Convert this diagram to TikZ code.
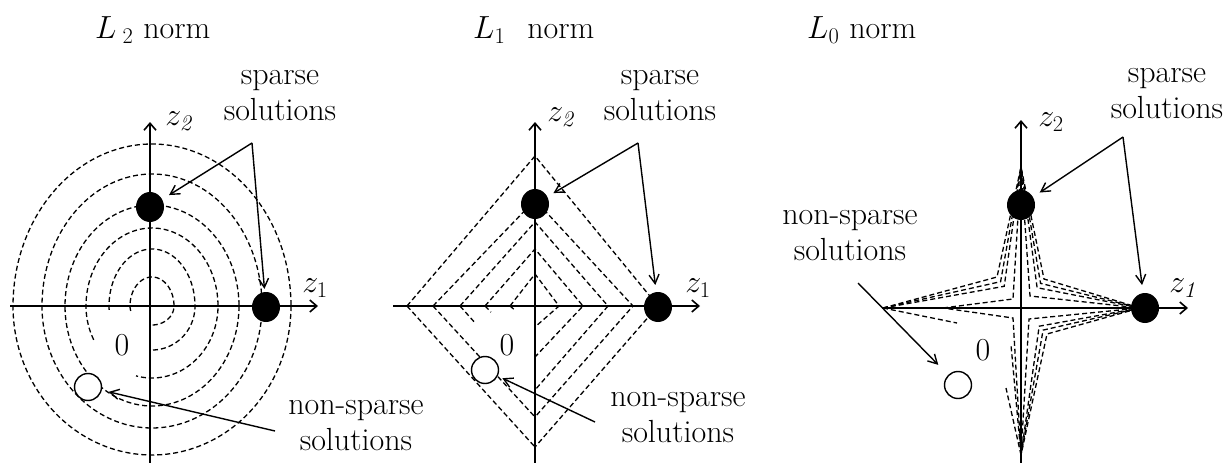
\RequirePackage{fix-cm}
\documentclass[tikz,border=0pt]{standalone}
\usetikzlibrary{arrows.meta,calc,shapes.geometric}
\begin{document}
\begin{tikzpicture}[x=1pt,y=-1pt,
  txt/.style={font=\fontsize{32}{36}\selectfont, inner sep=0pt},
  lbl/.style={txt, align=center},
  dsh/.style={line width=1.3pt, dash pattern=on 5pt off 3pt},
  axisline/.style={line width=2.5pt, -{Straight Barb[length=7pt,width=12pt,line width=1.6pt]}},
  arr/.style={line width=1.4pt, -{Straight Barb[length=9pt,width=10pt,line width=1.4pt]}},
  sdot/.style={ellipse, fill=black, minimum width=28pt, minimum height=30pt, inner sep=0pt},
  odot/.style={circle, draw=black, fill=white, line width=1.4pt, minimum size=27pt, inner sep=0pt}
]
\useasboundingbox (0,0) rectangle (1227,463);

% ---------------- Panel 1: L2 ----------------
\foreach \rx/\rt/\rb/\a/\b in {139/162/149/0/360, 110/132/122/0/360, 87/101/100/0/360, 66/78/72/152/464, 43/57/44/175/453, 22/29/19/165/455}
  \draw[dsh] plot[domain=\a:\b, samples=160, smooth] ({152+\rx*cos(\x)},{306+ifthenelse(sin(\x)>0,\rb,\rt)*sin(\x)});

\coordinate (h1a) at (10,306);
\coordinate (h1b) at (318,306);
\coordinate (v1a) at (150,463);
\coordinate (v1b) at (150,122);
\draw[axisline] (h1a) -- (h1b);
\draw[axisline] (v1a) -- (v1b);

\node[sdot] (s1) at (150,207) {};
\node[sdot] (s2) at (266,307) {};
\node[odot] (o1) at (88,387) {};

\node[txt, anchor=west] (t1) at (95,30) {$L_{\hspace{6pt}2}$\hspace{10pt}norm};
\node[txt] (z12) at (180,121) {$z_{\mathit{2}}$};
\node[txt] (z11) at (315,288) {$z_1$};
\node[txt] (zero1) at (122,345) {0};
\node[lbl] (sp1) at (280,96) {sparse\\solutions};
\node[lbl] (ns1) at (356,426) {non-sparse\\solutions};

\coordinate (a1) at (252,143);
\coordinate (b1) at (275,431);
\draw[arr, shorten >=8pt] (a1) -- (s1);
\draw[arr, shorten >=3pt] (a1) -- (s2);
\draw[arr, shorten >=7pt] (b1) -- (o1);

% ---------------- Panel 2: L1 ----------------
\foreach \l/\r/\t/\bb/\f in {25/24/32/21/0.15, 50/48/57/51/0.12, 75/73/84/84/0.2, 102/98/106/111/1, 128/123/150/141/1}{
  \draw[dsh] ({535-\l},306) -- (535,{306-\t}) -- ({535+\r},306) -- (535,{306+\bb});
  \draw[dsh] ({535-\l},306) -- ($({535-\l},306)!\f!(535,{306+\bb})$);
}

\coordinate (h2a) at (393,306);
\coordinate (h2b) at (700,306);
\coordinate (v2a) at (535,463);
\coordinate (v2b) at (535,122);
\draw[axisline] (h2a) -- (h2b);
\draw[axisline] (v2a) -- (v2b);

\node[sdot] (s3) at (535,204) {};
\node[sdot] (s4) at (658,307) {};
\node[odot] (o2) at (485,370) {};

\node[txt, anchor=west] (t2) at (473,30) {$L_1$\hspace{22pt}norm};
\node[txt] (z22) at (562,117) {$z_{\mathit{2}}$};
\node[txt] (z21) at (698,288) {$z_1$};
\node[txt] (zero2) at (507,345) {0};
\node[lbl] (sp2) at (660,96) {sparse\\solutions};
\node[lbl] (ns2) at (678,418) {non-sparse\\solutions};

\coordinate (a2) at (638,143);
\coordinate (b2) at (595,422);
\draw[arr, shorten >=7pt] (a2) -- (s3);
\draw[arr, shorten >=7pt] (a2) -- (s4);
\draw[arr, shorten >=5pt] (b2) -- (o2);

% ---------------- Panel 3: L0 ----------------
\coordinate (O3) at (1021,308);
\coordinate (T3) at (1021,167);
\coordinate (R3) at (1140,308);
\coordinate (B3) at (1021,455);
\coordinate (L3) at (883,308);
\coordinate (Li3) at (943,308);
\foreach \f in {1,0.85,0.7}{
  \draw[dsh] (L3) -- ($(O3)+(-24*\f,-31*\f)$) -- (T3) -- ($(O3)+(23*\f,-29*\f)$) -- (R3)
     -- ($(O3)+(26*\f,26*\f)$) -- (B3);
}
\coordinate (st1) at (957,323);
\coordinate (st2) at (1011,345);
\coordinate (st3) at (1006,388);
\draw[dsh] (L3) -- (st1);
\draw[dsh] (B3) -- (st2);
\draw[dsh] (B3) -- (st3);
\draw[dsh] (Li3) -- ($(O3)+(-8,-9)$) -- (T3) -- ($(O3)+(9,-12)$) -- (R3)
   -- ($(O3)+(8,11)$) -- (B3) -- ($(O3)+(-8,10)$) -- cycle;

\coordinate (h3a) at (882,308);
\coordinate (h3b) at (1188,308);
\coordinate (v3a) at (1021,463);
\coordinate (v3b) at (1021,120);
\draw[axisline] (h3a) -- (h3b);
\draw[axisline] (v3a) -- (v3b);

\node[sdot] (s5) at (1021,205) {};
\node[sdot] (s6) at (1145,308) {};
\node[odot] (o3) at (958,385) {};

\node[txt, anchor=west] (t3) at (807,30) {$L_0$\hspace{10pt}norm};
\node[txt] (z32) at (1051,122) {$z_2$};
\node[txt] (z31) at (1184,288) {$z_{\mathit{1}}$};
\node[txt] (zero3) at (983,350) {0};
\node[lbl] (sp3) at (1167,94) {sparse\\solutions};
\node[lbl] (ns3) at (850,236) {non-sparse\\solutions};

\coordinate (a3) at (1123,137);
\coordinate (b3) at (858,283);
\draw[arr, shorten >=8pt] (a3) -- (s5);
\draw[arr, shorten >=8pt] (a3) -- (s6);
\draw[arr, shorten >=14pt] (b3) -- (o3);
\end{tikzpicture}
\end{document}
